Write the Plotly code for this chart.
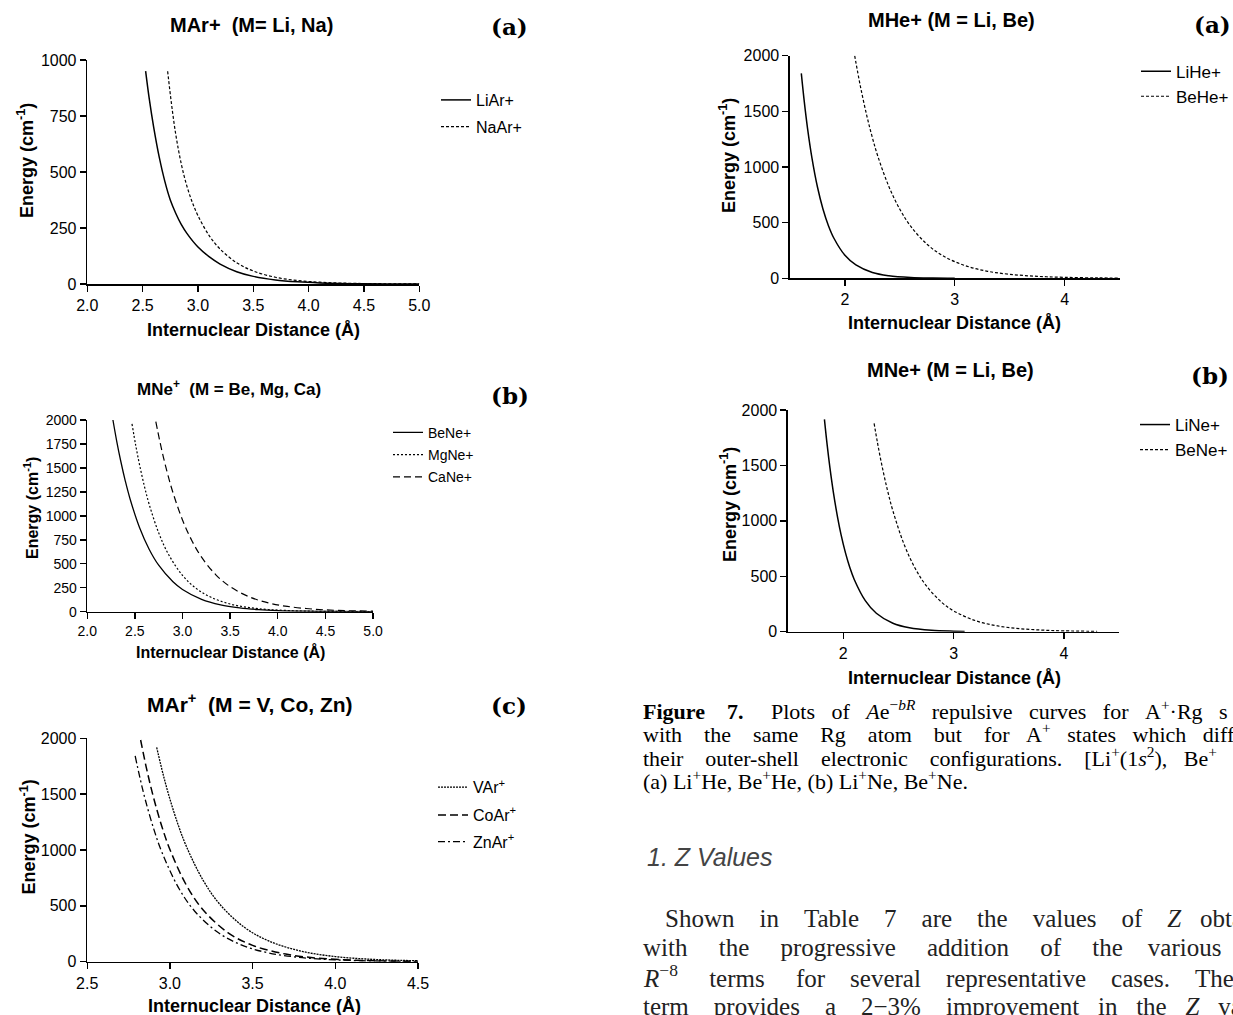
import plotly.graph_objects as go

W, H = 1233, 1015

# ---------------- data ----------------
# Panel L-a : MAr+ (M = Li, Na)
r_liar = [2.527, 2.56, 2.6, 2.65, 2.7, 2.75, 2.8, 2.85, 2.9, 3.0, 3.1, 3.2, 3.35, 3.5, 3.7, 3.9, 4.1, 4.5, 5.0]
e_liar = [950, 826, 699, 566, 459, 375, 315, 265, 226, 165, 122, 89, 55, 34, 18, 9.5, 5, 1.3, 0.3]
r_naar = [2.726, 2.76, 2.8, 2.85, 2.9, 2.95, 3.0, 3.1, 3.2, 3.35, 3.5, 3.7, 3.9, 4.1, 4.3, 4.6, 5.0]
e_naar = [950, 807, 666, 534, 437, 363, 305, 217, 156, 95, 58, 30, 15.5, 8, 4.1, 1.5, 0.4]

# Panel L-b : MNe+ (M = Be, Mg, Ca)
r_bene = [2.27, 2.31, 2.35, 2.4, 2.45, 2.55, 2.65, 2.75, 2.9, 3.0, 3.2, 3.4, 3.6, 3.8, 4.0, 4.3, 4.6, 5.0]
e_bene = [2000, 1777, 1580, 1363, 1176, 876, 652, 485, 312, 232, 129, 71, 40, 22, 12, 5, 2, 0.6]
r_mgne = [2.47, 2.51, 2.55, 2.6, 2.65, 2.75, 2.85, 3.0, 3.15, 3.3, 3.5, 3.7, 3.9, 4.2, 4.5, 5.0]
e_mgne = [1960, 1731, 1530, 1310, 1122, 823, 604, 379, 238, 150, 80, 43, 23, 9, 3.6, 0.8]
r_cane = [2.72, 2.76, 2.8, 2.85, 2.9, 3.0, 3.1, 3.2, 3.35, 3.5, 3.7, 3.9, 4.1, 4.4, 4.7, 5.0]
e_cane = [1983, 1787, 1611, 1414, 1242, 957, 738, 569, 385, 261, 155, 92, 55, 25, 11.5, 5.3]

# Panel L-c : MAr+ (M = V, Co, Zn)
r_var = [2.92, 2.96, 3.0, 3.05, 3.1, 3.2, 3.3, 3.45, 3.6, 3.8, 4.0, 4.2, 4.4, 4.5]
e_var = [1919, 1672, 1456, 1225, 1031, 731, 517, 308, 184, 92, 46, 23, 11.6, 8.4]
r_coar = [2.823, 2.86, 2.9, 2.95, 3.0, 3.1, 3.2, 3.35, 3.5, 3.7, 3.9, 4.1, 4.3, 4.5]
e_coar = [1985, 1721, 1476, 1217, 1005, 684, 465, 261, 146, 68, 31, 14.5, 6.7, 3.1]
r_znar = [2.79, 2.82, 2.85, 2.9, 2.95, 3.05, 3.15, 3.3, 3.45, 3.6, 3.8, 4.0, 4.25, 4.5]
e_znar = [1842, 1639, 1457, 1199, 987, 668, 452, 252, 140, 78, 36, 16.4, 6.2, 2.4]

# Panel R-a : MHe+ (M = Li, Be)
r_lihe = [1.603, 1.63, 1.66, 1.7, 1.75, 1.8, 1.85, 1.9, 2.0, 2.1, 2.25, 2.4, 2.6, 2.8, 3.0]
e_lihe = [1841, 1587, 1345, 1080, 820, 623, 473, 360, 207, 120, 52, 23, 7.6, 2.5, 0.8]
r_behe = [2.089, 2.14, 2.2, 2.25, 2.3, 2.4, 2.5, 2.6, 2.75, 2.9, 3.1, 3.3, 3.5, 3.75, 4.0, 4.3, 4.5]
e_behe = [2000, 1730, 1458, 1264, 1096, 825, 620, 466, 304, 198, 112, 63, 36, 17.6, 8.6, 3.6, 2]

# Panel R-b : MNe+ (M = Li, Be)
r_line = [1.83, 1.855, 1.88, 1.91, 1.95, 1.98, 2.02, 2.06, 2.1, 2.2, 2.3, 2.45, 2.6, 2.8, 3.0, 3.1]
e_line = [1916, 1683, 1477, 1264, 1027, 878, 713, 579, 471, 280, 166, 76, 35, 12.4, 4.4, 2.6]
r_bene2 = [2.28, 2.31, 2.35, 2.4, 2.45, 2.55, 2.65, 2.75, 2.9, 3.0, 3.2, 3.4, 3.6, 3.8, 4.0, 4.3]
e_bene2 = [1880, 1708, 1503, 1280, 1091, 792, 575, 418, 258, 188, 99, 52, 27.5, 14.5, 7.6, 2.9]

# ---------------- helpers ----------------
def X(px):
    return px / W

def Y(py):
    return 1 - py / H

SANS = "Liberation Sans, Arial, sans-serif"
SERIF = "Liberation Serif, Times New Roman, serif"
DSERIF = "DejaVu Serif, serif"

fig = go.Figure()

# panel: x px domain, y px domain (top,bottom), xrange, yrange, dtick x, dtick y, tick font size, tickformat
panels = {
    "1": ([87.3, 419.3], [60, 284], [2, 5], [0, 1000], 0.5, 250, 16, ".1f"),
    "2": ([87.2, 373.1], [420, 611.7], [2, 5], [0, 2000], 0.5, 250, 14, ".1f"),
    "3": ([87.2, 418], [738.3, 961.7], [2.5, 4.5], [0, 2000], 0.5, 500, 16, ".1f"),
    "4": ([790, 1119.5], [55.7, 278.3], [1.5, 4.5], [0, 2000], 1, 500, 16, "d"),
    "5": ([788, 1119.2], [410, 631.7], [1.5, 4.5], [0, 2000], 1, 500, 16, "d"),
}

layout = dict(
    width=W, height=H, margin=dict(l=0, r=0, t=0, b=0, autoexpand=False),
    paper_bgcolor="white", plot_bgcolor="white", showlegend=True,
)
for k, (xd, yd, xr, yr, dx, dy, fs, tf) in panels.items():
    xn = "xaxis" if k == "1" else "xaxis" + k
    yn = "yaxis" if k == "1" else "yaxis" + k
    ax_common = dict(showline=True, linecolor="black", linewidth=1.6, ticks="outside",
                     ticklen=6, tickwidth=1.4, tickcolor="black", showgrid=False,
                     zeroline=False, tickfont=dict(family=SANS, size=fs, color="black"),
                     fixedrange=True, automargin=False)
    layout[xn] = dict(domain=[X(xd[0]), X(xd[1])], range=xr, dtick=dx, tick0=0,
                      tickformat=tf, anchor="y" if k == "1" else "y" + k, **ax_common)
    layout[yn] = dict(domain=[Y(yd[1]), Y(yd[0])], range=yr, dtick=dy, tick0=0,
                      anchor="x" if k == "1" else "x" + k, **ax_common)

# traces: (name, r, e, panel, dash, width, legend line-start px, legend center y px, legend font)
series = [
    ("LiAr+", r_liar, e_liar, "1", "solid", 1.5, 441, 100, 16),
    ("NaAr+", r_naar, e_naar, "1", "3px,2px", 1.2, 441, 126.7, 16),
    ("BeNe+", r_bene, e_bene, "2", "solid", 1.3, 393, 432.7, 14),
    ("MgNe+", r_mgne, e_mgne, "2", "2px,2px", 1.2, 393, 455, 14),
    ("CaNe+", r_cane, e_cane, "2", "7px,4px", 1.2, 393, 477.3, 14),
    ("VAr<sup>+</sup>", r_var, e_var, "3", "2px,1px", 1.3, 438, 787.3, 16),
    ("CoAr<sup>+</sup>", r_coar, e_coar, "3", "8px,4px", 1.5, 438, 815, 16),
    ("ZnAr<sup>+</sup>", r_znar, e_znar, "3", "7px,3px,2px,3px", 1.3, 438, 841.7, 16),
    ("LiHe+", r_lihe, e_lihe, "4", "solid", 1.5, 1141, 71.7, 17),
    ("BeHe+", r_behe, e_behe, "4", "3px,2px", 1.2, 1141, 96.7, 17),
    ("LiNe+", r_line, e_line, "5", "solid", 1.5, 1140, 425, 17),
    ("BeNe+", r_bene2, e_bene2, "5", "3px,2px", 1.2, 1140, 450, 17),
]

for i, (name, r, e, p, dash, wdt, lx, ly, lfs) in enumerate(series):
    lg = "legend" if i == 0 else "legend%d" % (i + 1)
    fig.add_trace(go.Scatter(
        x=r, y=e, mode="lines", name=name,
        line=dict(color="black", width=wdt, dash=dash, shape="spline", smoothing=1.0),
        xaxis="x" if p == "1" else "x" + p, yaxis="y" if p == "1" else "y" + p,
        legend=lg, hoverinfo="skip",
    ))
    layout[lg] = dict(x=X(lx - 5), y=Y(ly), xanchor="left", yanchor="middle",
                      bgcolor="rgba(0,0,0,0)", borderwidth=0, itemwidth=30,
                      font=dict(family=SANS, size=lfs, color="black"))

annotations = []

def ann(text, px, py, size, family=SANS, xanchor="center", angle=0, color="black"):
    annotations.append(dict(text=text, x=X(px), y=Y(py), xref="paper", yref="paper",
                            xanchor=xanchor, yanchor="middle", showarrow=False,
                            textangle=angle, font=dict(family=family, size=size, color=color)))

def justify(words, extra):
    # spread `extra` non-breaking spaces over the gaps between words
    gaps = len(words) - 1
    out = words[0]
    for g in range(gaps):
        n = extra // gaps + (1 if g < extra % gaps else 0)
        out += " " + "\u00a0" * n + words[g + 1]
    return out

# panel titles
ann("<b>MAr+  (M= Li, Na)</b>", 251, 25, 20)
ann("<b>MNe<sup>+</sup>  (M = Be, Mg, Ca)</b>", 229, 388, 17)
ann("<b>MAr<sup>+</sup>  (M = V, Co, Zn)</b>", 250, 703, 21)
ann("<b>MHe+ (M = Li, Be)</b>", 951.5, 20, 20)
ann("<b>MNe+ (M = Li, Be)</b>", 950.5, 370, 20)

# panel letters
ann("<b>(a)</b>", 509, 26, 23, family=DSERIF)
ann("<b>(b)</b>", 510, 395, 23, family=DSERIF)
ann("<b>(c)</b>", 509, 705, 23, family=DSERIF)
ann("<b>(a)</b>", 1212, 25, 23, family=DSERIF)
ann("<b>(b)</b>", 1210, 375, 23, family=DSERIF)

# axis titles
xt = "<b>Internuclear Distance (Å)</b>"
yt = "<b>Energy (cm<sup>-1</sup>)</b>"
ann(xt, 253.5, 330, 18)
ann(xt, 230, 652, 16)
ann(xt, 254, 1006, 18)
ann(xt, 954.5, 323, 18)
ann(xt, 954, 678, 18)
ann(yt, 26, 161, 18, angle=-90)
ann(yt, 31, 508, 16, angle=-90)
ann(yt, 27.6, 837, 18, angle=-90)
ann(yt, 727, 156, 18, angle=-90)
ann(yt, 729, 505, 18, angle=-90)

# caption (justified lines)
cap = [
    (justify(["<b>Figure", "7.</b>\u00a0", "Plots", "of", "<i>A</i>e<sup>\u2212<i>bR</i></sup>",
              "repulsive", "curves", "for", "A<sup>+</sup>\u00b7Rg", "s"], 20), 710),
    (justify(["with", "the", "same", "Rg", "atom", "but", "for", "A<sup>+</sup>", "states",
              "which", "diff"], 26), 733),
    (justify(["their", "outer-shell", "electronic", "configurations.",
              "[Li<sup>+</sup>(1<i>s</i><sup>2</sup>),", "Be<sup>+</sup>"], 14), 757),
    ("(a) Li<sup>+</sup>He, Be<sup>+</sup>He, (b) Li<sup>+</sup>Ne, Be<sup>+</sup>Ne.", 780),
]
for t, yy in cap:
    ann(t, 641, yy, 22, family=SERIF, xanchor="left")

ann("<i>1. Z Values</i>", 645, 857, 25, family=SANS, xanchor="left", color="#444444")

body = [
    (justify(["Shown", "in", "Table", "7", "are", "the", "values", "of", "<i>Z</i>", "obta"], 26), 663, 918),
    (justify(["with", "the", "progressive", "addition", "of", "the", "various"], 23), 641, 947),
    (justify(["<i>R</i><sup>\u22128</sup>", "terms", "for", "several", "representative",
              "cases.", "The"], 20), 641, 976),
    (justify(["term", "provides", "a", "2\u22123%", "improvement", "in", "the", "<i>Z</i>", "va"], 20), 641, 1006),
]
for t, xx, yy in body:
    ann(t, xx, yy, 25, family=SERIF, xanchor="left", color="#222222")

layout["annotations"] = annotations
fig.update_layout(**layout)
fig.write_html("out.html",
               config={"displayModeBar": False, "staticPlot": True},
               post_script="document.body.style.margin='0px';document.body.style.overflow='hidden';")
